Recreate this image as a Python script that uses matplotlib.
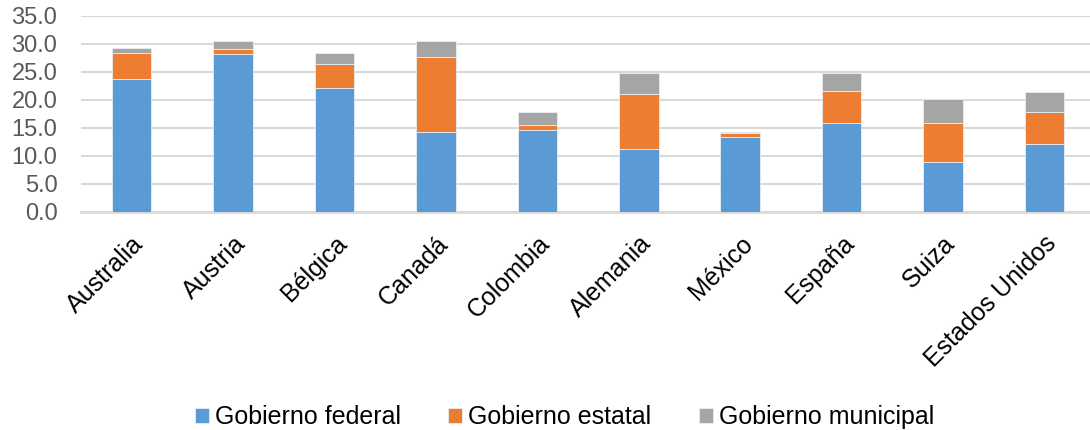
import matplotlib.pyplot as plt
import matplotlib.transforms as mtransforms
import numpy as np

plt.rcParams['font.family'] = ['Liberation Sans', 'DejaVu Sans']

countries = ['Australia', 'Austria', 'Bélgica', 'Canadá', 'Colombia',
             'Alemania', 'México', 'España', 'Suiza', 'Estados Unidos']
federal = [23.8, 28.2, 22.1, 14.3, 14.6, 11.3, 13.3, 15.8, 8.9, 12.1]
estatal = [4.6, 0.9, 4.3, 13.3, 0.9, 9.8, 0.7, 5.8, 6.9, 5.7]
municipal = [0.9, 1.3, 2.0, 2.9, 2.4, 3.6, 0.3, 3.1, 4.3, 3.6]

labels = ['Gobierno federal', 'Gobierno estatal', 'Gobierno municipal']
colors = ['#5B9BD5', '#ED7D31', '#A5A5A5']

fig = plt.figure(figsize=(10.9, 4.3), dpi=100)
ax = fig.add_axes([0.0743, 0.507, 0.9257, 0.4565])

x = np.arange(len(countries))
bottom = np.zeros(len(countries))
for values, label, color in zip([federal, estatal, municipal], labels, colors):
    ax.bar(x, values, 0.39, bottom=bottom, color=color, label=label,
           edgecolor='#E8EEF5', linewidth=0.6, zorder=3)
    bottom += np.array(values)

ax.set_ylim(0, 35)
ax.set_xlim(-0.5, 9.45)
ax.set_yticks(np.arange(0, 36, 5))
ax.set_yticklabels([f'{v:.1f}' for v in np.arange(0, 36, 5)], fontsize=17, color='#595959')
ax.set_xticks(x)
ax.set_xticklabels(countries, rotation=45, ha='right', va='top',
                   rotation_mode='anchor', fontsize=18)
shift = mtransforms.ScaledTranslation(5 / 100, 0, fig.dpi_scale_trans)
for lbl in ax.get_xticklabels():
    lbl.set_transform(lbl.get_transform() + shift)
ax.tick_params(length=0)
ax.tick_params(axis='y', pad=17)
ax.tick_params(axis='x', pad=14)
ax.grid(axis='y', color='#D9D9D9', linewidth=1.5, zorder=0)
for side in ['top', 'right', 'left']:
    ax.spines[side].set_visible(False)
ax.spines['bottom'].set_color('#D9D9D9')
ax.spines['bottom'].set_linewidth(2)

fig.legend(loc='center', bbox_to_anchor=(0.518, 0.03), ncol=3, frameon=False,
           fontsize=18, handlelength=0.55, handleheight=0.55, handletextpad=0.25,
           columnspacing=1.9)

fig.savefig('out.png', dpi=100)
